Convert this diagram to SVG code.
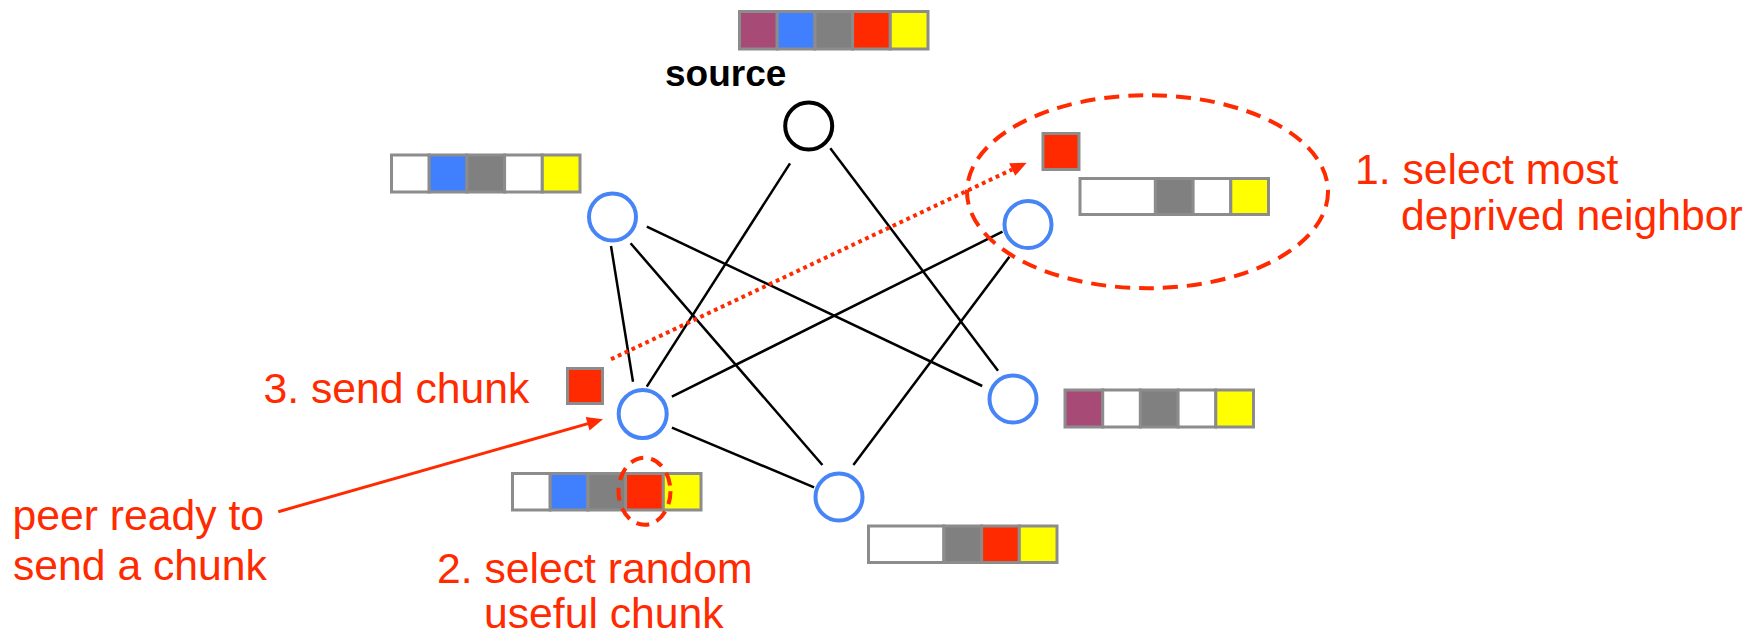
<svg xmlns="http://www.w3.org/2000/svg" width="1755" height="637" viewBox="0 0 1755 637">
<style>
.edge{stroke:#000;stroke-width:2.5;fill:none}
.peer{fill:#fff;stroke:#4784f6;stroke-width:4}
.src{fill:#fff;stroke:#000;stroke-width:4}
.c{stroke:#8c8c8c;stroke-width:3}
.w{fill:#fff}.b{fill:#4080ff}.g{fill:#808080}.r{fill:#ff2a00}.y{fill:#ffff00}.p{fill:#a84a76}
.lbl{font-family:"Liberation Sans",Arial,sans-serif;font-size:42.7px;fill:#ff2a00}
.srcl{font-family:"Liberation Sans",Arial,sans-serif;font-size:37px;font-weight:bold;fill:#000}
.dash{fill:none;stroke:#ff2a00;stroke-width:4}
</style>
<g id="connectors">
<line class="edge" x1="790" y1="163.3" x2="646.8" y2="386.7"/>
<line class="edge" x1="830.3" y1="148.3" x2="998" y2="370.7"/>
<line class="edge" x1="611" y1="246" x2="633" y2="381.7"/>
<line class="edge" x1="630.6" y1="243.3" x2="822.4" y2="465"/>
<line class="edge" x1="646.8" y1="226.7" x2="982.2" y2="386"/>
<line class="edge" x1="671.9" y1="396.7" x2="1002.5" y2="231.7"/>
<line class="edge" x1="1009.4" y1="256.7" x2="853.4" y2="465"/>
<line class="edge" x1="671.9" y1="427.7" x2="814.1" y2="487.3"/>
</g>
<g id="send-arrow">
<line x1="611" y1="359.3" x2="1012.2" y2="169.5" stroke="#ff2a00" stroke-width="4" stroke-dasharray="3.8 3.8"/>
<polygon points="1026.7,162.7 1015.2,175.8 1009.2,163.2" fill="#ff2a00"/>
</g>
<g id="peer-arrow">
<line x1="278.3" y1="511.7" x2="588" y2="423.6" stroke="#ff2a00" stroke-width="3"/>
<polygon points="603,419.3 589.5,430.4 585.7,417" fill="#ff2a00"/>
</g>
<g id="node-source">
<circle class="src" cx="808.7" cy="126" r="23.5"/>
<text class="srcl" x="665" y="86">source</text>
<g transform="translate(739.5,11.5)">
<rect class="c p" x="0" y="0" width="37.7" height="37.5"/>
<rect class="c b" x="37.7" y="0" width="37.7" height="37.5"/>
<rect class="c g" x="75.4" y="0" width="37.7" height="37.5"/>
<rect class="c r" x="113.1" y="0" width="37.7" height="37.5"/>
<rect class="c y" x="150.8" y="0" width="37.7" height="37.5"/>
</g>
</g>
<g id="node-topleft">
<circle class="peer" cx="612.5" cy="217" r="23.5"/>
<g transform="translate(391.5,155)">
<rect class="c w" x="0" y="0" width="37.7" height="37"/>
<rect class="c b" x="37.7" y="0" width="37.7" height="37"/>
<rect class="c g" x="75.4" y="0" width="37.7" height="37"/>
<rect class="c w" x="113.1" y="0" width="37.7" height="37"/>
<rect class="c y" x="150.8" y="0" width="37.7" height="37"/>
</g>
</g>
<g id="node-topright">
<circle class="peer" cx="1028" cy="224.5" r="23.5"/>
<rect class="c r" x="1043" y="133.5" width="36" height="36"/>
<g transform="translate(1080,178.5)">
<rect class="c w" x="0" y="0" width="75.4" height="36"/>
<rect class="c g" x="75.4" y="0" width="37.7" height="36"/>
<rect class="c w" x="113.1" y="0" width="37.7" height="36"/>
<rect class="c y" x="150.8" y="0" width="37.7" height="36"/>
</g>
<ellipse class="dash" cx="1147.5" cy="191.7" rx="180.5" ry="96.5" stroke-dasharray="15 9"/>
<text class="lbl" x="1355" y="183.5">1. select most</text>
<text class="lbl" x="1401" y="229.5">deprived neighbor</text>
</g>
<g id="node-peer">
<circle class="peer" cx="642.7" cy="414" r="24"/>
<rect class="c r" x="567.5" y="368.5" width="35" height="35"/>
<text class="lbl" x="263.5" y="402.7">3. send chunk</text>
<g transform="translate(512.5,473.5)">
<rect class="c w" x="0" y="0" width="37.7" height="36.5"/>
<rect class="c b" x="37.7" y="0" width="37.7" height="36.5"/>
<rect class="c g" x="75.4" y="0" width="37.7" height="36.5"/>
<rect class="c r" x="113.1" y="0" width="37.7" height="36.5"/>
<rect class="c y" x="150.8" y="0" width="37.7" height="36.5"/>
</g>
<ellipse class="dash" cx="644.5" cy="491.3" rx="26" ry="33.5" stroke-dasharray="13 8"/>
<text class="lbl" x="437" y="582.5">2. select random</text>
<text class="lbl" x="484" y="628">useful chunk</text>
<text class="lbl" x="12.5" y="530">peer ready to</text>
<text class="lbl" x="13" y="579.5">send a chunk</text>
</g>
<g id="node-rightbottom">
<circle class="peer" cx="1013" cy="399" r="23.5"/>
<g transform="translate(1065,390)">
<rect class="c p" x="0" y="0" width="37.7" height="37"/>
<rect class="c w" x="37.7" y="0" width="37.7" height="37"/>
<rect class="c g" x="75.4" y="0" width="37.7" height="37"/>
<rect class="c w" x="113.1" y="0" width="37.7" height="37"/>
<rect class="c y" x="150.8" y="0" width="37.7" height="37"/>
</g>
</g>
<g id="node-bottom">
<circle class="peer" cx="839" cy="497" r="23.5"/>
<g transform="translate(868.5,526)">
<rect class="c w" x="0" y="0" width="75.4" height="36.5"/>
<rect class="c g" x="75.4" y="0" width="37.7" height="36.5"/>
<rect class="c r" x="113.1" y="0" width="37.7" height="36.5"/>
<rect class="c y" x="150.8" y="0" width="37.7" height="36.5"/>
</g>
</g>
</svg>
